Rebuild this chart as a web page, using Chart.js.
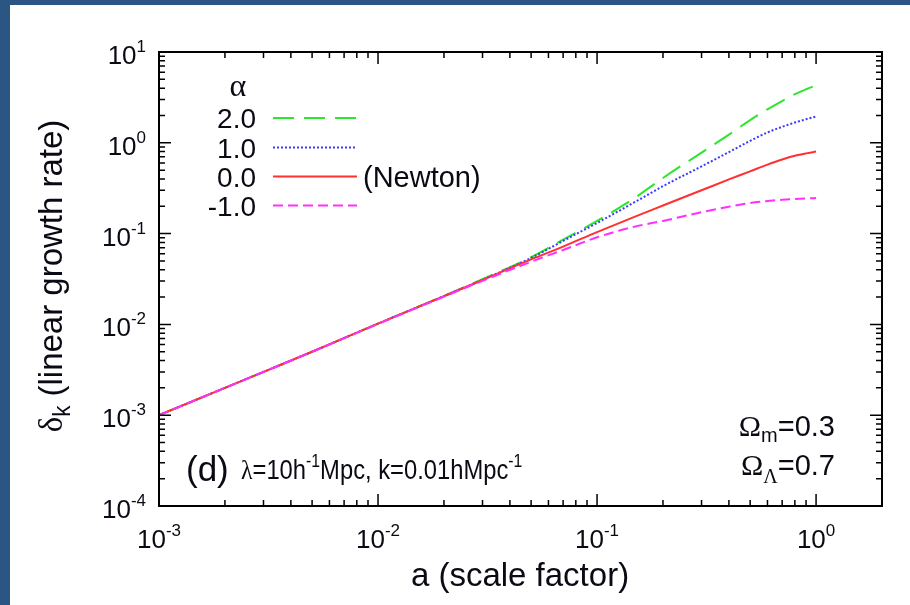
<!DOCTYPE html>
<html>
<head>
<meta charset="utf-8">
<script src="https://cdn.jsdelivr.net/npm/chart.js@4.4.1/dist/chart.umd.min.js"></script>
<style>
  html, body { margin: 0; padding: 0; background: #fff; }
  #wrap { width: 910px; height: 605px; position: relative; }
</style>
</head>
<body>
<div id="wrap"><canvas id="myChart" width="910" height="605"></canvas></div>
<script>
// scale factor a
var aVals = [0.001, 0.002, 0.005, 0.01, 0.02, 0.03, 0.05, 0.07, 0.1, 0.15, 0.2, 0.3, 0.4, 0.5, 0.6, 0.7, 0.8, 0.9, 1.0]

// delta_k for each alpha
var delta_a2  = [0.001, 0.002, 0.005, 0.0102, 0.0206, 0.0315, 0.055, 0.086, 0.138, 0.251, 0.41, 0.78, 1.23, 1.78, 2.34, 2.88, 3.43, 3.89, 4.3]
var delta_a1  = [0.001, 0.002, 0.005, 0.0102, 0.0205, 0.031, 0.054, 0.083, 0.131, 0.225, 0.333, 0.55, 0.79, 1.05, 1.30, 1.50, 1.67, 1.82, 1.95]
var delta_a0  = [0.001, 0.002, 0.005, 0.0102, 0.0204, 0.0308, 0.052, 0.072, 0.104, 0.155, 0.204, 0.30, 0.395, 0.485, 0.575, 0.655, 0.72, 0.765, 0.80]
var delta_am1 = [0.001, 0.002, 0.005, 0.0101, 0.0202, 0.0302, 0.049, 0.066, 0.091, 0.12, 0.138, 0.172, 0.198, 0.217, 0.228, 0.236, 0.241, 0.244, 0.246]

var alphaLabels = ['2.0', '1.0', '0.0', '-1.0']

// tick labels as powers of ten
var xExponents = [-3, -2, -1, 0]
var yExponents = [-4, -3, -2, -1, 0, 1]

var SANS = '"Liberation Sans", Arial, sans-serif'
var SERIF = '"Liberation Serif", "Times New Roman", serif'

function pts(ys) {
    return aVals.map(function (a, i) { return { x: a, y: ys[i] } })
}

// draw a run of text pieces (for super/subscripts), sx squeezes it sideways
function drawParts(ctx, parts, x, y, align, sx) {
    sx = sx || 1
    var w = 0
    parts.forEach(function (p) { ctx.font = p.font; w += ctx.measureText(p.t).width })
    var cx = 0
    if (align === 'center') cx = -w / 2
    if (align === 'right') cx = -w
    ctx.save()
    ctx.translate(x, y)
    ctx.scale(sx, 1)
    ctx.textAlign = 'left'
    ctx.textBaseline = 'alphabetic'
    parts.forEach(function (p) {
        ctx.font = p.font
        ctx.fillText(p.t, cx, p.dy || 0)
        cx += ctx.measureText(p.t).width
    })
    ctx.restore()
}

function powParts(e) {
    return [
        { t: '10', font: '26px ' + SANS },
        { t: String(e), font: '17px ' + SANS, dy: -12 }
    ]
}

var framePlugin = {
    id: 'frame',
    beforeDraw: function (chart) {
        var ctx = chart.ctx
        ctx.save()
        ctx.fillStyle = '#ffffff'
        ctx.fillRect(0, 0, chart.width, chart.height)
        ctx.fillStyle = '#2b5582'
        ctx.fillRect(0, 0, chart.width, 5)
        ctx.fillRect(0, 0, 10, chart.height)
        ctx.restore()
    },
    afterDraw: function (chart) {
        var ctx = chart.ctx
        var area = chart.chartArea
        var xs = chart.scales.x
        var ys = chart.scales.y
        ctx.save()
        ctx.strokeStyle = '#000'
        ctx.fillStyle = '#0a0a14'

        // border
        ctx.lineWidth = 2
        ctx.strokeRect(area.left, area.top, area.right - area.left, area.bottom - area.top)

        // ticks, inward on all four sides
        ctx.lineWidth = 1.5
        ctx.beginPath()
        for (var e = -3; e <= 0; e++) {
            for (var m = 1; m <= 9; m++) {
                var v = m * Math.pow(10, e)
                if (v > xs.max) break
                var px = xs.getPixelForValue(v)
                var len = m === 1 ? 12 : 6
                ctx.moveTo(px, area.bottom); ctx.lineTo(px, area.bottom - len)
                ctx.moveTo(px, area.top); ctx.lineTo(px, area.top + len)
            }
        }
        for (var e2 = -4; e2 <= 1; e2++) {
            for (var m2 = 1; m2 <= 9; m2++) {
                var v2 = m2 * Math.pow(10, e2)
                if (v2 > ys.max) break
                var py = ys.getPixelForValue(v2)
                var len2 = m2 === 1 ? 12 : 6
                ctx.moveTo(area.left, py); ctx.lineTo(area.left + len2, py)
                ctx.moveTo(area.right, py); ctx.lineTo(area.right - len2, py)
            }
        }
        ctx.stroke()

        // tick labels
        xExponents.forEach(function (e) {
            drawParts(ctx, powParts(e), xs.getPixelForValue(Math.pow(10, e)), area.bottom + 42, 'center')
        })
        yExponents.forEach(function (e) {
            drawParts(ctx, powParts(e), 146, ys.getPixelForValue(Math.pow(10, e)) + 12, 'right')
        })

        // axis titles
        drawParts(ctx, [{ t: 'a (scale factor)', font: '33px ' + SANS }], 520, 586, 'center')
        ctx.save()
        ctx.translate(62, 276)
        ctx.rotate(-Math.PI / 2)
        drawParts(ctx, [
            { t: 'δ', font: '34px ' + SERIF },
            { t: 'k', font: '23px ' + SANS, dy: 8 },
            { t: ' (linear growth rate)', font: '34px ' + SANS }
        ], 0, 0, 'center', 0.97)
        ctx.restore()

        // legend
        drawParts(ctx, [{ t: 'α', font: '32px ' + SERIF }], 238, 96, 'center')
        var legY = [118, 147.5, 176.5, 205.5]
        chart.data.datasets.forEach(function (ds, i) {
            drawParts(ctx, [{ t: alphaLabels[i], font: '28px ' + SANS }], 256, legY[i] + 10, 'right')
            ctx.save()
            ctx.strokeStyle = ds.borderColor
            ctx.lineWidth = ds.borderWidth
            ctx.setLineDash(ds.borderDash || [])
            ctx.beginPath()
            ctx.moveTo(273, legY[i])
            ctx.lineTo(357, legY[i])
            ctx.stroke()
            ctx.restore()
        })
        drawParts(ctx, [{ t: '(Newton)', font: '29px ' + SANS }], 363, legY[2] + 10, 'left')

        // annotations
        drawParts(ctx, [{ t: '(d)', font: '35px ' + SANS }], 186, 481, 'left')
        drawParts(ctx, [
            { t: 'λ', font: '27px ' + SERIF },
            { t: '=10h', font: '27px ' + SANS },
            { t: '-1', font: '18px ' + SANS, dy: -12 },
            { t: 'Mpc, k=0.01hMpc', font: '27px ' + SANS },
            { t: '-1', font: '18px ' + SANS, dy: -12 }
        ], 241, 479, 'left', 0.88)
        drawParts(ctx, [
            { t: 'Ω', font: '30px ' + SERIF },
            { t: 'm', font: '20px ' + SANS, dy: 6 },
            { t: '=0.3', font: '29px ' + SANS }
        ], 835, 436, 'right')
        drawParts(ctx, [
            { t: 'Ω', font: '30px ' + SERIF },
            { t: 'Λ', font: '20px ' + SERIF, dy: 8 },
            { t: '=0.7', font: '29px ' + SANS }
        ], 835, 475, 'right')

        ctx.restore()
    }
}

var ctx = document.getElementById('myChart')
var chartData = {
    type: 'line',
    data: {
        datasets: [{
            label: '2.0',
            data: pts(delta_a2),
            borderColor: '#2ee62e',
            borderWidth: 2,
            borderDash: [21, 10],
            pointRadius: 0,
            fill: false,
            order: 4
        },
        {
            label: '1.0',
            data: pts(delta_a1),
            borderColor: '#3a3aff',
            borderWidth: 2,
            borderDash: [2, 2],
            pointRadius: 0,
            fill: false,
            order: 3
        },
        {
            label: '0.0',
            data: pts(delta_a0),
            borderColor: '#ff3030',
            borderWidth: 2,
            pointRadius: 0,
            fill: false,
            order: 2
        },
        {
            label: '-1.0',
            data: pts(delta_am1),
            borderColor: '#ff30ff',
            borderWidth: 2,
            borderDash: [10, 5],
            pointRadius: 0,
            fill: false,
            order: 1
        }]
    },
    options: {
        responsive: false,
        animation: false,
        cubicInterpolationMode: 'monotone',
        layout: { padding: { left: 159, top: 52, right: 28, bottom: 99 } },
        plugins: { legend: { display: false }, tooltip: { enabled: false } },
        scales: {
            x: { type: 'logarithmic', min: 0.001, max: 2, display: false },
            y: { type: 'logarithmic', min: 0.0001, max: 10, display: false }
        }
    },
    plugins: [framePlugin]
}
var myChart = new Chart(ctx, chartData)
</script>
</body>
</html>
